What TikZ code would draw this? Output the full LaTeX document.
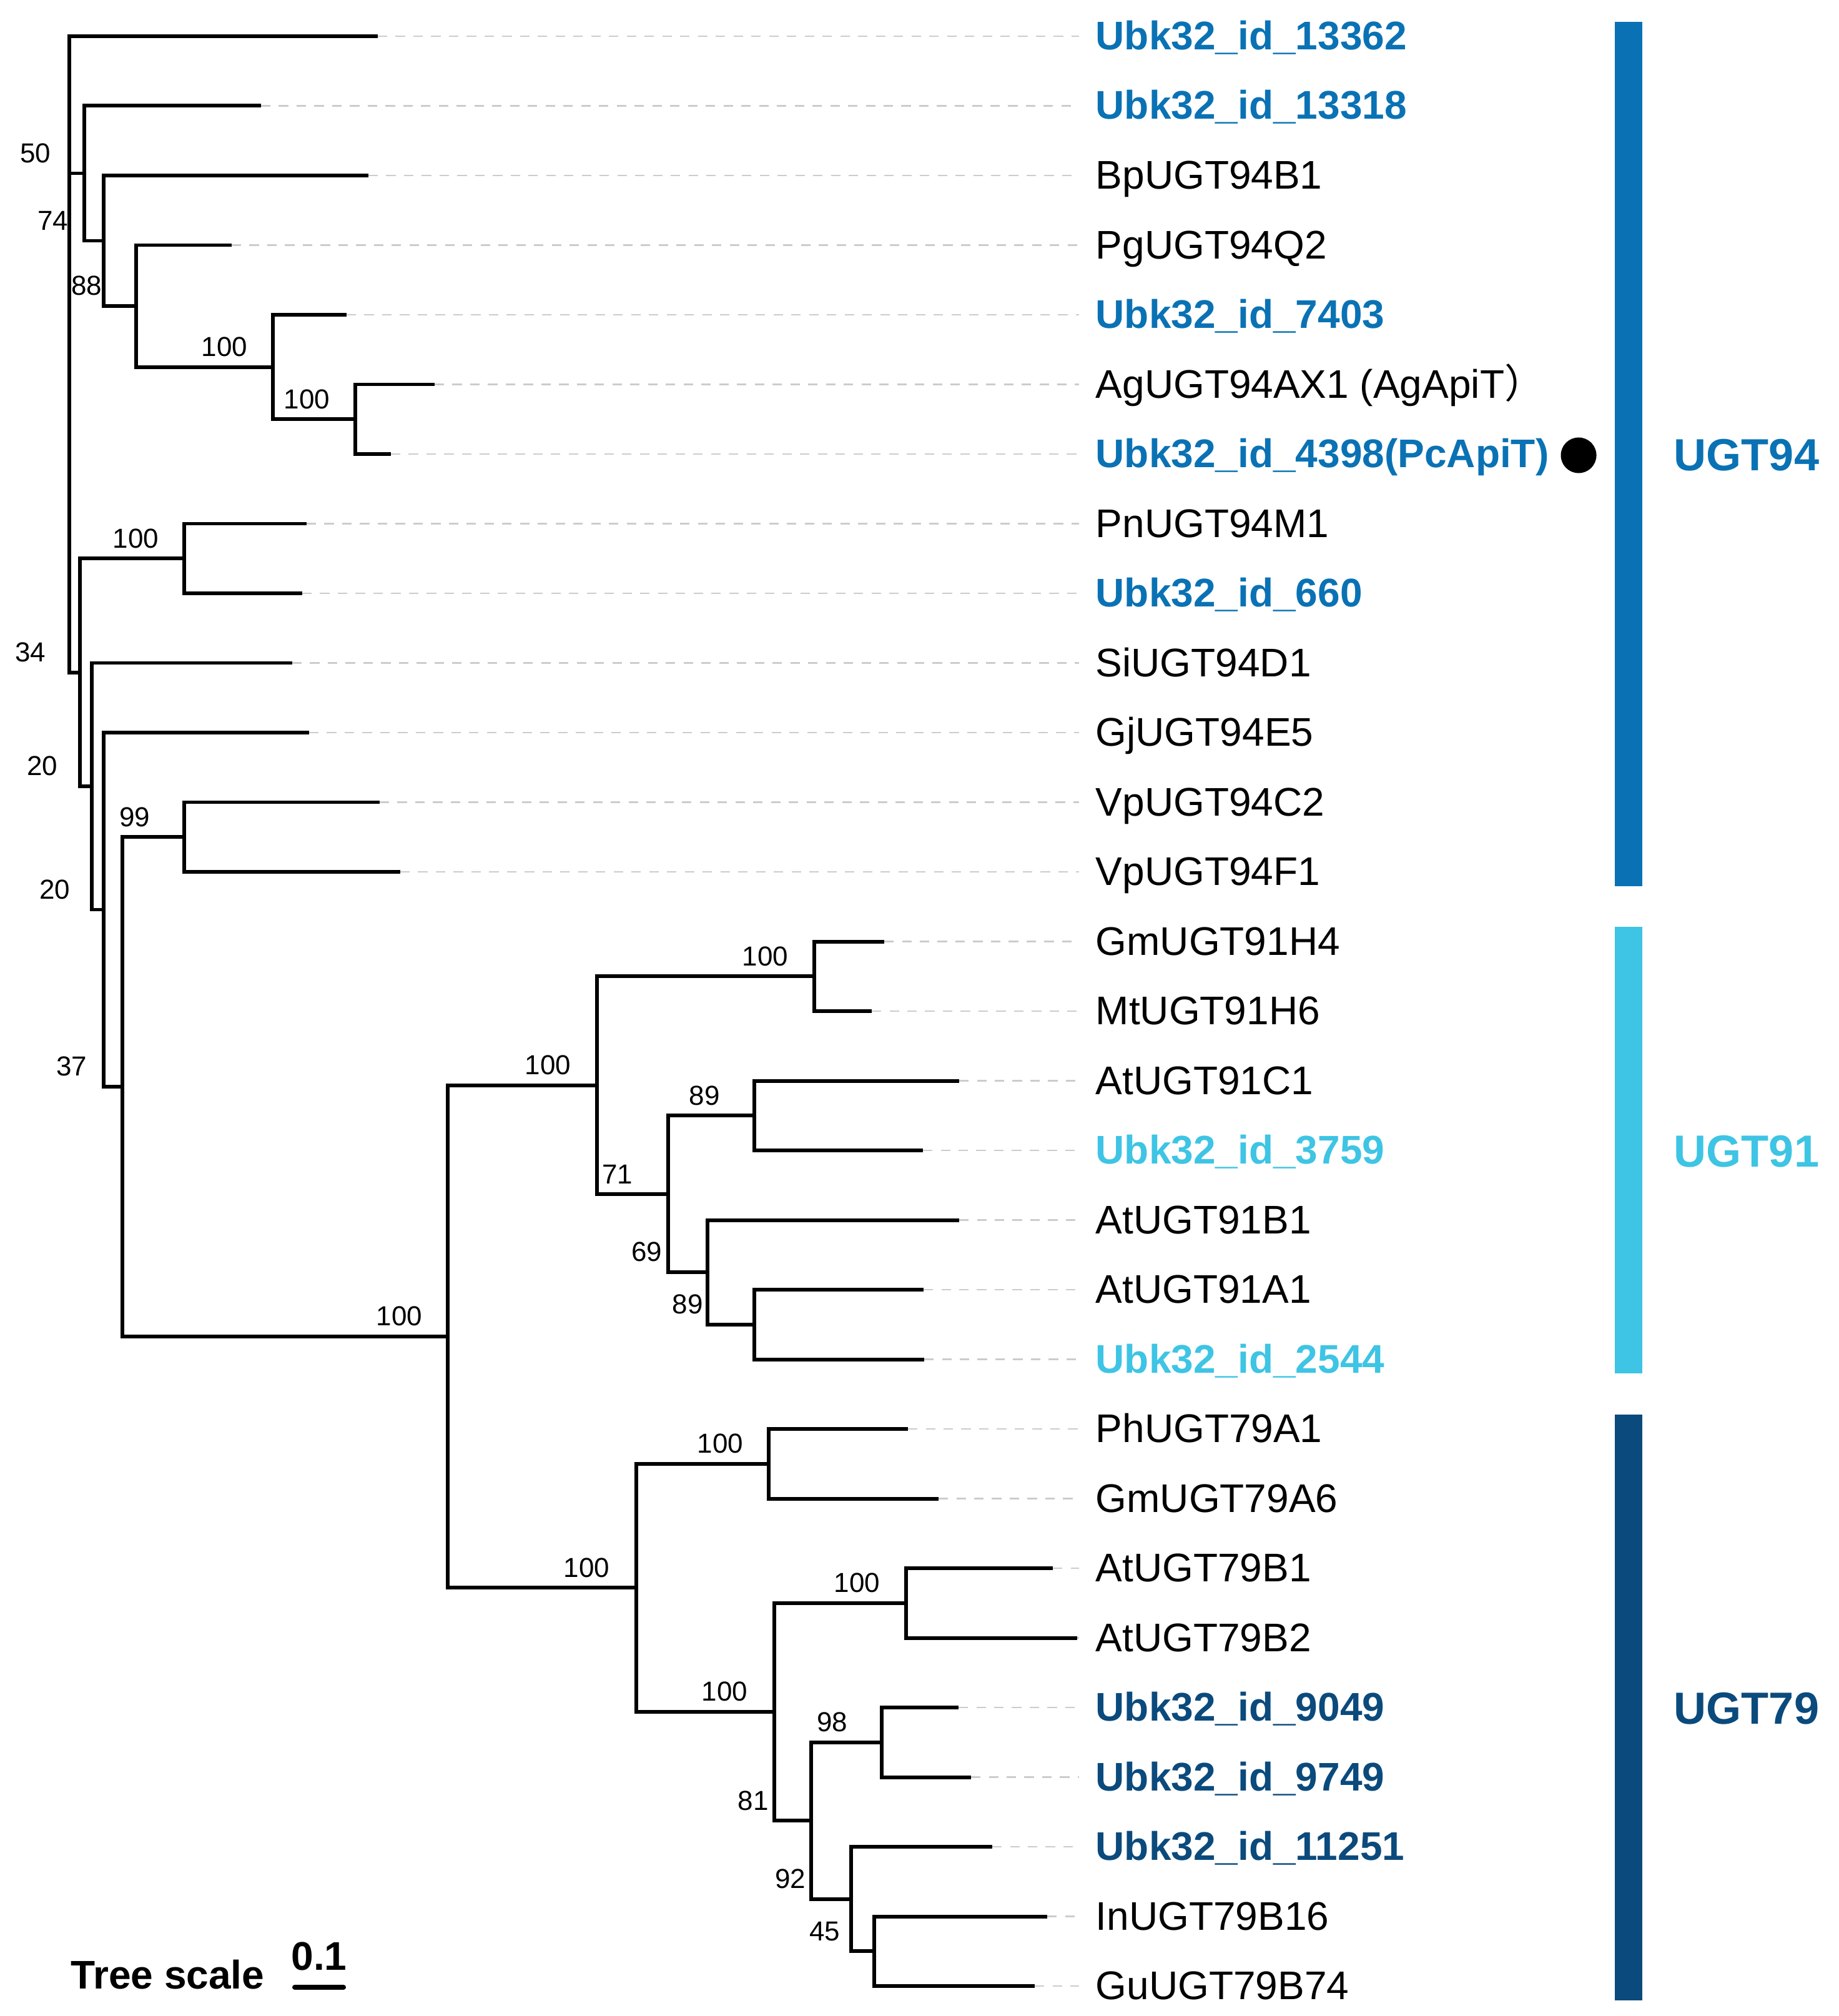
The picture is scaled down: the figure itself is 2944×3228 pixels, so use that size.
\documentclass[tikz,border=0pt]{standalone}
\usepackage{fontspec}
\setmainfont{Liberation Sans}
\newfontfamily\cjk{Noto Sans CJK SC}
\usetikzlibrary{calc}

\definecolor{c94}{HTML}{0A72B4}
\definecolor{c91}{HTML}{3EC4E4}
\definecolor{c79}{HTML}{0B4A7C}

\tikzset{
  branch/.style={line width=1.7pt, black},
  guide/.style={draw=black!20, line width=0.8pt, dash pattern=on 4.3pt off 3.8pt, shorten >=0.26cm},
  leaf/.style={anchor=west, inner sep=0pt, text height=0.43cm, text depth=0pt, font=\fontsize{18.2}{20}\selectfont},
  plain/.style={text=black},
  ubkA/.style={text=c94, font=\fontsize{18.2}{20}\selectfont\bfseries},
  ubkB/.style={text=c91, font=\fontsize{18.2}{20}\selectfont\bfseries},
  ubkC/.style={text=c79, font=\fontsize{18.2}{20}\selectfont\bfseries},
  boot/.style={anchor=south east, inner sep=0pt, font=\fontsize{12.5}{14}\selectfont},
  clade/.style={anchor=west, inner sep=0pt, text height=0.52cm, text depth=0pt, font=\fontsize{20.5}{22}\selectfont\bfseries},
}

\begin{document}
\begin{tikzpicture}[x=0.01cm, y=-0.01cm]
        \useasboundingbox (0,0) rectangle (2944,3228);

        % Leaves: tip of branch, dashed guide, label
        \foreach \i/\xe/\lab/\sty in {
            1/605/Ubk32\_id\_13362/ubkA, 2/418/Ubk32\_id\_13318/ubkA,
            3/590/BpUGT94B1/plain, 4/371/PgUGT94Q2/plain,
            5/555/Ubk32\_id\_7403/ubkA, 6/696/AgUGT94AX1 (AgApiT{\cjk ）}/plain,
            7/626/Ubk32\_id\_4398(PcApiT)/ubkA, 8/491/PnUGT94M1/plain,
            9/484/Ubk32\_id\_660/ubkA, 10/468/SiUGT94D1/plain,
            11/495/GjUGT94E5/plain, 12/608/VpUGT94C2/plain,
            13/641/VpUGT94F1/plain, 14/1416/GmUGT91H4/plain,
            15/1396/MtUGT91H6/plain, 16/1536/AtUGT91C1/plain,
            17/1478/Ubk32\_id\_3759/ubkB, 18/1536/AtUGT91B1/plain,
            19/1479/AtUGT91A1/plain, 20/1480/Ubk32\_id\_2544/ubkB,
            21/1454/PhUGT79A1/plain, 22/1503/GmUGT79A6/plain,
            23/1686/AtUGT79B1/plain, 24/1725/AtUGT79B2/plain,
            25/1535/Ubk32\_id\_9049/ubkC, 26/1555/Ubk32\_id\_9749/ubkC,
            27/1589/Ubk32\_id\_11251/ubkC, 28/1677/InUGT79B16/plain,
            29/1657/GuUGT79B74/plain}
        {
            \pgfmathsetmacro{\yy}{58+111.5*(\i-1)}
            \coordinate (l\i) at (\xe,\yy);
            \node[leaf,\sty] (n\i) at (1754,\yy) {\lab};
            \draw[guide] (l\i) -- (n\i.west);
        }

        % Internal nodes (x = depth, y = middle of children)
        \coordinate (A) at (111,567);
        \coordinate (B) at (135,277.5);
        \coordinate (D) at (166,385.5);
        \coordinate (E) at (218,490);
        \coordinate (F) at (437,587.6);
        \coordinate (G) at (569,671.3);
        \coordinate (C) at (127.6,1076.6);
        \coordinate (L) at (295,894.3);
        \coordinate (H) at (147,1259);
        \coordinate (I) at (166,1456.5);
        \coordinate (J) at (196,1740);
        \coordinate (K) at (295,1340.3);
        \coordinate (M) at (717,2140);
        \coordinate (N) at (956,1737.5);
        \coordinate (P) at (1304,1563.3);
        \coordinate (Q) at (1070,1911.7);
        \coordinate (R) at (1207.5,1786.3);
        \coordinate (S) at (1133,2037.1);
        \coordinate (T) at (1207.5,2120.8);
        \coordinate (O) at (1019,2542.4);
        \coordinate (U) at (1231,2343.8);
        \coordinate (V) at (1240,2741);
        \coordinate (W) at (1451,2566.8);
        \coordinate (X) at (1299.4,2915.2);
        \coordinate (Y) at (1411.6,2789.8);
        \coordinate (Z) at (1363,3040.6);
        \coordinate (AA) at (1400,3124.3);

        % Branches
        \foreach \p/\c in {A/l1, A/B, A/C, B/l2, B/D, D/l3, D/E, E/l4, E/F,
            F/l5, F/G, G/l6, G/l7, C/L, C/H, L/l8, L/l9, H/l10, H/I,
            I/l11, I/J, J/K, J/M, K/l12, K/l13, M/N, M/O, N/P, N/Q,
            P/l14, P/l15, Q/R, Q/S, R/l16, R/l17, S/l18, S/T, T/l19, T/l20,
            O/U, O/V, U/l21, U/l22, V/W, V/X, W/l23, W/l24, X/Y, X/Z,
            Y/l25, Y/l26, Z/l27, Z/AA, AA/l28, AA/l29}
            \draw[branch] (\p) |- (\c);

        % Bootstrap values
        \foreach \p/\v/\dx in {B/50/-53, D/74/-56, E/88/-54, F/100/-40,
            G/100/-40, L/100/-40, C/34/-54, H/20/-54, K/99/-54, I/20/-53,
            J/37/-56, N/100/-41, Q/71/-56, S/69/-72, M/100/-40, R/89/-54,
            T/89/-81, P/100/-41, O/100/-42, U/100/-40, W/100/-41, V/100/-42,
            X/81/-68, Y/98/-54, Z/92/-72, AA/45/-54}
            \node[boot] (b\p) at ($(\p)+(\dx,-16)$) {\v};

        % Marker for PcApiT
        \node[circle, fill=black, inner sep=0pt, minimum size=0.57cm] (dot) at (2528,729) {};

        % Clade bars
        \fill[c94] (2586,35) rectangle (2630,1419);
        \fill[c91] (2586,1484) rectangle (2630,2199);
        \fill[c79] (2586,2265) rectangle (2630,3203);
        \node[clade, text=c94] (g94) at (2680,727) {UGT94};
        \node[clade, text=c91] (g91) at (2680,1842) {UGT91};
        \node[clade, text=c79] (g79) at (2680,2734) {UGT79};

        % Tree scale
        \node[anchor=base west, inner sep=0pt, font=\fontsize{18.2}{20}\selectfont\bfseries] (tscale) at (113,3184) {Tree scale};
        \coordinate (s0) at (472,3182);
        \coordinate (s1) at (550,3182);
        \draw[line width=2.3pt, line cap=round] (s0) -- (s1);
        \node[anchor=base, inner sep=0pt, font=\fontsize{18.2}{20}\selectfont\bfseries] (tval) at ($(s0)!0.5!(s1)+(0,-28)$) {0.1};
\end{tikzpicture}
\end{document}
